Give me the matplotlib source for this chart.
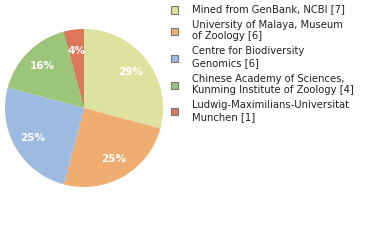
import matplotlib
matplotlib.use("Agg")
import matplotlib.pyplot as plt
from matplotlib.patches import Rectangle
import numpy as np

labels = ["Mined from GenBank, NCBI [7]",
          "University of Malaya, Museum\nof Zoology [6]",
          "Centre for Biodiversity\nGenomics [6]",
          "Chinese Academy of Sciences,\nKunming Institute of Zoology [4]",
          "Ludwig-Maximilians-Universitat\nMunchen [1]"]
values = [7, 6, 6, 4, 1]
pct_labels = ["29%", "25%", "25%", "16%", "4%"]
colors = ["#dde29e", "#efad72", "#9dbae0", "#9dc579", "#dc775a"]

W, H = 380, 240
fig = plt.figure(figsize=(W/100, H/100), dpi=100)
cx, cy, r = 84, 108, 79
ax = fig.add_axes([(cx - r)/W, 1 - (cy + r)/H, 2*r/W, 2*r/H])
wedges, _ = ax.pie(values, colors=colors, startangle=90, counterclock=False,
                   radius=1.0, wedgeprops=dict(linewidth=0))
for w, t in zip(wedges, pct_labels):
    ang = np.deg2rad((w.theta1 + w.theta2) / 2)
    rr = 0.75 if t != "4%" else 0.73
    ax.text(rr*np.cos(ang), rr*np.sin(ang), t, ha="center", va="center",
            color="white", fontsize=7.5, fontweight="semibold")
ax.set_xlim(-1, 1); ax.set_ylim(-1, 1)
ax.set_aspect("equal")
ax.axis("off")

# legend
y = 10
for lab, c in zip(labels, colors):
    nlines = lab.count("\n") + 1
    yc = y + (nlines - 1) * 6
    fig.patches.append(Rectangle(((174 - 3.5)/W, 1 - (yc + 3.5)/H), 7/W, 7/H,
                                 transform=fig.transFigure, facecolor=c,
                                 edgecolor="#777777", linewidth=0.8))
    fig.text(192/W, 1 - (y - 5.5)/H, lab, ha="left", va="top", fontsize=7.2,
             color="#222222", linespacing=1.2)
    y += 12 * (nlines - 1) + 15

fig.savefig("out.png", dpi=100)
